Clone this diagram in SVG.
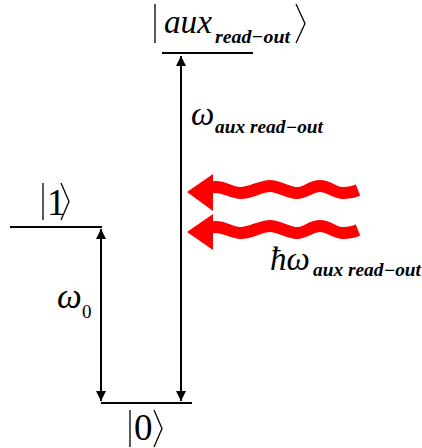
<svg xmlns="http://www.w3.org/2000/svg" width="422" height="448" viewBox="0 0 422 448">
<style>
.lvl{stroke:#000;stroke-width:2;fill:none}
.ar{stroke:#000;stroke-width:2;fill:none}
.m{font-family:"Liberation Serif","Times New Roman",serif;font-style:italic;fill:#000}
.r{font-family:"Liberation Serif","Times New Roman",serif;fill:#000}
.br{stroke:#000;stroke-width:1.3;fill:none}
.wave{stroke:#ff0000;stroke-width:12;fill:none}
.head{fill:#ff0000}
</style>
<defs>
<marker id="ah" viewBox="0 0 10 10" refX="10" refY="5" markerWidth="5" markerHeight="5" orient="auto-start-reverse" markerUnits="strokeWidth">
<path d="M0,0 L10,5 L0,10 z" fill="#000"/>
</marker>
</defs>
<g id="level-aux">
<line class="lvl" x1="162" y1="53" x2="253" y2="53"/>
<line class="br" x1="155" y1="4" x2="155" y2="43"/>
<text class="m" x="164" y="33" font-size="33" textLength="48" lengthAdjust="spacingAndGlyphs">aux</text>
<text class="m" x="215" y="43" font-size="19" font-weight="bold" textLength="75" lengthAdjust="spacingAndGlyphs">read−out</text>
<polyline class="br" points="296,4 305,23.5 296,43"/>
</g>
<g id="level-1">
<line class="lvl" x1="10" y1="227" x2="102" y2="227"/>
<line class="br" x1="43" y1="183" x2="43" y2="220"/>
<text class="r" x="47" y="215" font-size="37">1</text>
<polyline class="br" points="61,183 69,201.5 61,220"/>
</g>
<g id="level-0">
<line class="lvl" x1="101" y1="403" x2="192" y2="403"/>
<line class="br" x1="130" y1="410" x2="130" y2="447"/>
<text class="r" x="134" y="440" font-size="37">0</text>
<polyline class="br" points="154,410 162,428.5 154,447"/>
</g>
<g id="connectors">
<line class="ar" x1="101" y1="229" x2="101" y2="401" marker-start="url(#ah)" marker-end="url(#ah)"/>
<line class="ar" x1="181" y1="56" x2="181" y2="401" marker-start="url(#ah)" marker-end="url(#ah)"/>
</g>
<g id="label-w0">
<text class="m" x="57" y="308" font-size="35">ω</text>
<text class="r" x="82" y="318" font-size="19">0</text>
</g>
<g id="label-waux">
<text class="m" x="191" y="125" font-size="33">ω</text>
<text class="m" x="215" y="133" font-size="18" font-weight="bold" textLength="108" lengthAdjust="spacingAndGlyphs">aux read−out</text>
</g>
<g id="photon-1">
<path class="wave" d="M209,188 Q213,187 216,187 C225,187 232,193 241,193 S261,186 270,186 S288,193 297,193 S311,186 320,186 S334,193 343,193 S353,192 358,190"/>
<path class="head" d="M187,192 L213,174 L213,211 Z"/>
</g>
<g id="photon-2">
<path class="wave" d="M209,228 Q213,227 216,227 C225,227 232,233 241,233 S261,226 270,226 S288,233 297,233 S311,226 320,226 S334,233 343,233 S353,232 358,230"/>
<path class="head" d="M187,232 L213,214 L213,250 Z"/>
</g>
<g id="label-hw">
<text class="m" x="270" y="270" font-size="33">ħω</text>
<text class="m" x="313" y="276" font-size="18" font-weight="bold" textLength="108" lengthAdjust="spacingAndGlyphs">aux read−out</text>
</g>
</svg>
